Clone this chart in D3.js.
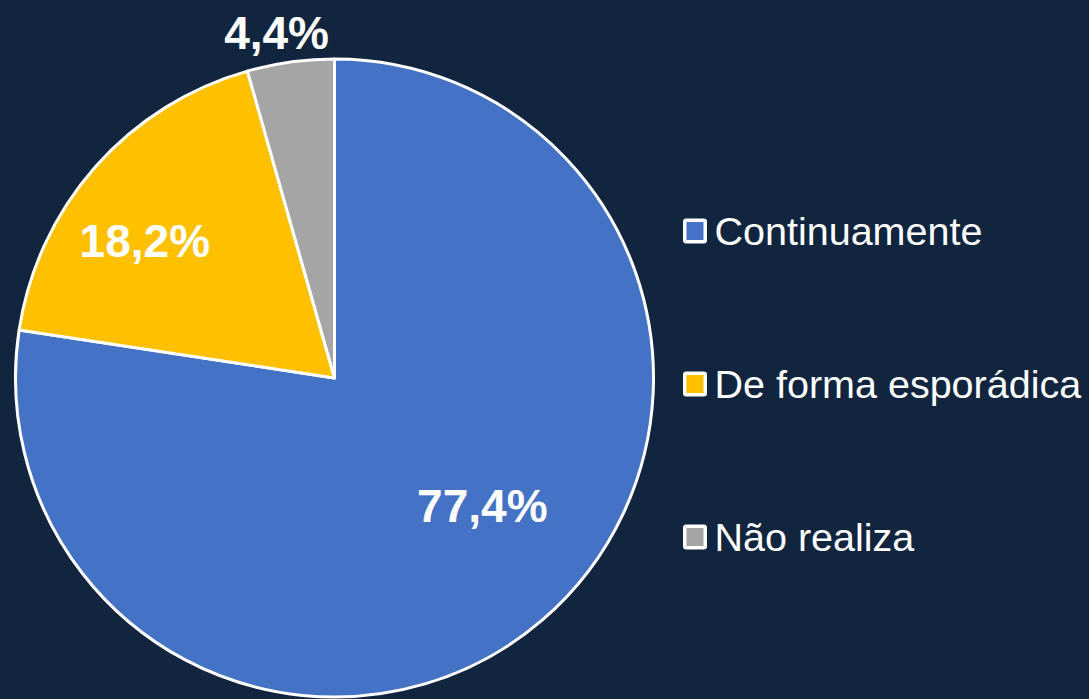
<!DOCTYPE html>
<html>
<head>
<meta charset="utf-8">
<script src="https://cdn.jsdelivr.net/npm/d3@7"></script>
<style>
html,body{margin:0;padding:0;background:#12253f;}
svg{display:block;}
text{font-family:"Liberation Sans",Arial,sans-serif;}
</style>
</head>
<body>
<svg id="chart" width="1089" height="699"></svg>
<script>
const categories = ["Continuamente", "De forma esporádica", "Não realiza"];
const values = [77.4, 18.2, 4.4];
const labels = ["77,4%", "18,2%", "4,4%"];
const colors = ["#4472c4", "#ffc000", "#a5a5a5"];

const W = 1089, H = 699;
const svg = d3.select("#chart");
svg.append("rect").attr("width", W).attr("height", H).attr("fill", "#12253f");

const cx = 334.5, cy = 378, r = 319;
const data = categories.map((c, i) => ({cat: c, value: values[i], label: labels[i], color: colors[i]}));
const pie = d3.pie().value(d => d.value).sort(null);
const arcs = pie(data);
const arc = d3.arc().innerRadius(0).outerRadius(r);

const g = svg.append("g").attr("transform", `translate(${cx},${cy})`);
g.selectAll("path").data(arcs).enter().append("path")
  .attr("d", arc)
  .attr("fill", d => d.data.color)
  .attr("stroke", "#ffffff")
  .attr("stroke-width", 3)
  .attr("stroke-linejoin", "round");

// label placement (radius factor & nudges, layout only)
const labelLayout = [
  {rf: 0.61, dx: 21, dy: -21, base: 17},
  {rf: 0.73, dx: -15, dy: 19, base: 14},
  {rf: 1.09, dx: -10, dy: 1, base: 14}
];
g.selectAll("text.lbl").data(arcs).enter().append("text")
  .attr("class", "lbl")
  .each(function(d, i) {
    const L = labelLayout[i];
    const a = (d.startAngle + d.endAngle) / 2;
    let x = Math.sin(a) * r * L.rf + L.dx;
    let y = -Math.cos(a) * r * L.rf + L.dy;
    d3.select(this).attr("x", x).attr("y", y + L.base);
  })
  .attr("text-anchor", "middle")
  .attr("fill", "#ffffff")
  .attr("font-weight", "bold")
  .attr("font-size", 46)
  .text(d => d.data.label);

// legend
const legend = svg.append("g").attr("transform", "translate(683,0)");
const rowY = d3.scalePoint().domain(categories).range([231, 537]);
const items = legend.selectAll("g").data(data).enter().append("g")
  .attr("transform", d => `translate(0,${rowY(d.cat)})`);
items.append("rect")
  .attr("x", 1.75).attr("y", -10.75)
  .attr("width", 20.5).attr("height", 21.5)
  .attr("fill", d => d.color)
  .attr("stroke", "#ffffff").attr("stroke-width", 3.5).attr("rx", 1.5);
items.append("text")
  .attr("x", 31.5).attr("y", 14)
  .attr("fill", "#ffffff")
  .attr("font-size", 39.5)
  .text(d => d.cat);
</script>
</body>
</html>
